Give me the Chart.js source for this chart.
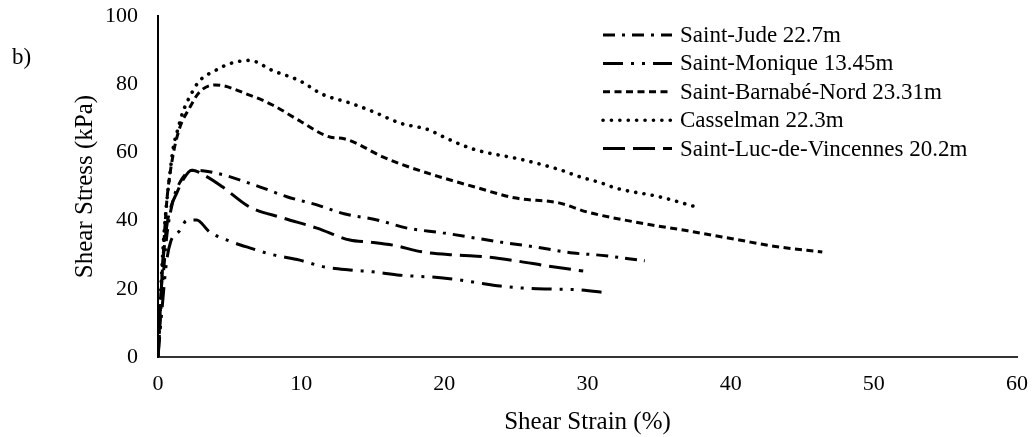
<!DOCTYPE html>
<html>
<head>
<meta charset="utf-8">
<script src="https://cdn.jsdelivr.net/npm/chart.js@4/dist/chart.umd.min.js"></script>
<style>
  html, body { margin: 0; padding: 0; background: #fff; }
  #wrap { width: 1034px; height: 437px; position: relative; }
</style>
</head>
<body>
<div id="wrap"><canvas id="shearChart"></canvas></div>
<script>
// Shear strain (%) / shear stress (kPa) per site
const judeStrain = [0, 0.3, 0.6, 1, 1.5, 2.45, 4, 7.1, 9, 11.1, 13, 15.3, 17.4, 19.9, 22, 23.9, 26, 29, 31, 34];
const judeStress = [0, 20, 35, 45, 51, 54.8, 54, 49.9, 47, 44.6, 42, 40.2, 37.8, 36.4, 35, 33.7, 32.5, 30.5, 29.8, 28.2];

const moniqueStrain = [0, 0.3, 0.6, 0.9, 1.5, 2, 2.7, 3.6, 5, 6.4, 8, 9.9, 11.5, 13.4, 15, 16.9, 19.9, 22, 23.9, 25.5, 27.6, 29.5, 31.4];
const moniqueStress = [0, 15, 28, 34, 37, 40, 40.2, 36.7, 34, 32, 30, 28.4, 26.5, 25.5, 25, 24, 23.2, 22, 20.8, 20.2, 19.9, 19.7, 18.8];

const barnabeStrain = [0, 0.3, 0.6, 1, 1.5, 2.2, 2.9, 4, 6.4, 8, 10, 12, 13, 15.7, 17, 19.7, 22, 25, 28, 30, 33.7, 37, 40.6, 43, 46.4];
const barnabeStress = [0, 25, 45, 58, 67, 73, 77.7, 79.8, 76.8, 73.9, 69, 64.5, 64, 58.7, 56.5, 52.8, 50, 46.6, 45.2, 42.5, 39.3, 37, 34.3, 32.5, 30.8];

const casselmanStrain = [0, 0.2, 0.4, 0.6, 0.84, 1.05, 1.4, 1.75, 2.3, 2.9, 4, 5, 6.4, 8, 9.9, 11.5, 13.4, 15, 16.9, 19, 19.7, 22, 25.5, 28, 29.5, 31, 32, 35, 37.6];
const casselmanStress = [0, 20, 35, 45, 54, 61, 67, 72, 77, 81, 84, 86, 87, 84, 81, 77, 74.5, 72, 68.6, 66.5, 65, 61, 57.8, 55, 52.8, 51, 49.5, 47, 44];

const lucStrain = [0, 0.3, 0.6, 0.9, 1.3, 1.75, 2.35, 3.4, 4.5, 6.4, 8.7, 11.1, 13.4, 14.8, 16.4, 18.5, 20.9, 23, 25, 27.2, 29.7];
const lucStress = [0, 25, 38, 44, 48, 52, 54.8, 52.9, 49.9, 44, 40.8, 37.8, 34.3, 33.7, 32.8, 30.8, 29.9, 29.3, 28.2, 26.7, 25.2];

const seriesNames = [
  'Saint-Jude 22.7m',
  'Saint-Monique 13.45m',
  'Saint-Barnabé-Nord 23.31m',
  'Casselman 22.3m',
  'Saint-Luc-de-Vincennes 20.2m'
];

const xTicks = [0, 10, 20, 30, 40, 50, 60];
const yTicks = [0, 20, 40, 60, 80, 100];

function toPoints(xs, ys) {
  return xs.map((x, i) => ({ x: x, y: ys[i] }));
}

const FONT = '"Liberation Serif", "Times New Roman", serif';

function lineSet(label, xs, ys, dash, cap, width) {
  return {
    label: label,
    data: toPoints(xs, ys),
    borderColor: '#000',
    borderWidth: width || 3,
    borderDash: dash,
    borderCapStyle: cap || 'butt',
    pointRadius: 0,
    fill: false,
    showLine: true,
    cubicInterpolationMode: 'monotone'
  };
}

// legend drawn inside the plot area, top right
const insideLegend = {
  id: 'insideLegend',
  afterDatasetsDraw(chart) {
    const ctx = chart.ctx;
    const x0 = 603, x1 = 672, tx = 680;
    const top = 35, step = 28.4;
    ctx.save();
    chart.data.datasets.forEach((ds, i) => {
      const y = top + i * step;
      ctx.beginPath();
      ctx.strokeStyle = ds.borderColor;
      ctx.lineWidth = ds.borderWidth;
      ctx.setLineDash(ds.borderDash);
      ctx.lineCap = ds.borderCapStyle;
      ctx.moveTo(x0, y);
      ctx.lineTo(x1, y);
      ctx.stroke();
      ctx.setLineDash([]);
      ctx.fillStyle = '#000';
      ctx.font = '23px ' + FONT;
      ctx.textBaseline = 'middle';
      ctx.textAlign = 'left';
      ctx.fillText(ds.label, tx, y + 1);
    });
    // panel letter
    ctx.font = '23px ' + FONT;
    ctx.fillText('b)', 12, 58);
    ctx.restore();
  }
};

const ctx = document.getElementById('shearChart').getContext('2d');

new Chart(ctx, {
  type: 'scatter',
  data: {
    datasets: [
      lineSet(seriesNames[0], judeStrain, judeStress, [12, 7, 3, 7]),
      lineSet(seriesNames[1], moniqueStrain, moniqueStress, [20, 8, 3, 8, 3, 8]),
      lineSet(seriesNames[2], barnabeStrain, barnabeStress, [7, 4.5]),
      lineSet(seriesNames[3], casselmanStrain, casselmanStress, [0.1, 8.3], 'round', 3.6),
      lineSet(seriesNames[4], lucStrain, lucStress, [22, 8])
    ]
  },
  plugins: [insideLegend],
  options: {
    responsive: true,
    maintainAspectRatio: false,
    animation: false,
    layout: { padding: 0 },
    plugins: {
      legend: { display: false },
      tooltip: { enabled: false }
    },
    scales: {
      x: {
        type: 'linear',
        min: 0,
        max: 60,
        afterFit: s => {
          s.height = 80;
          s.paddingLeft = 0;
          s.paddingRight = 17;
        },
        afterBuildTicks: s => { s.ticks = xTicks.map(v => ({ value: v })); },
        grid: { display: false, drawTicks: false },
        border: { display: true, color: '#333', width: 2 },
        ticks: { color: '#000', font: { family: FONT, size: 22 }, padding: 14 },
        title: {
          display: true,
          text: 'Shear Strain (%)',
          color: '#000',
          font: { family: FONT, size: 25 },
          padding: { top: 4, bottom: 0 }
        }
      },
      y: {
        type: 'linear',
        min: 0,
        max: 100,
        afterFit: s => {
          s.width = 158;
          s.paddingTop = 16;
          s.paddingBottom = 0;
        },
        afterBuildTicks: s => { s.ticks = yTicks.map(v => ({ value: v })); },
        grid: { display: false, drawTicks: false },
        border: { display: true, color: '#000', width: 2 },
        ticks: { color: '#000', font: { family: FONT, size: 22 }, padding: 20 },
        title: {
          display: true,
          text: 'Shear Stress (kPa)',
          color: '#000',
          font: { family: FONT, size: 25 },
          padding: { top: 70, bottom: 0 }
        }
      }
    }
  }
});
</script>
</body>
</html>
